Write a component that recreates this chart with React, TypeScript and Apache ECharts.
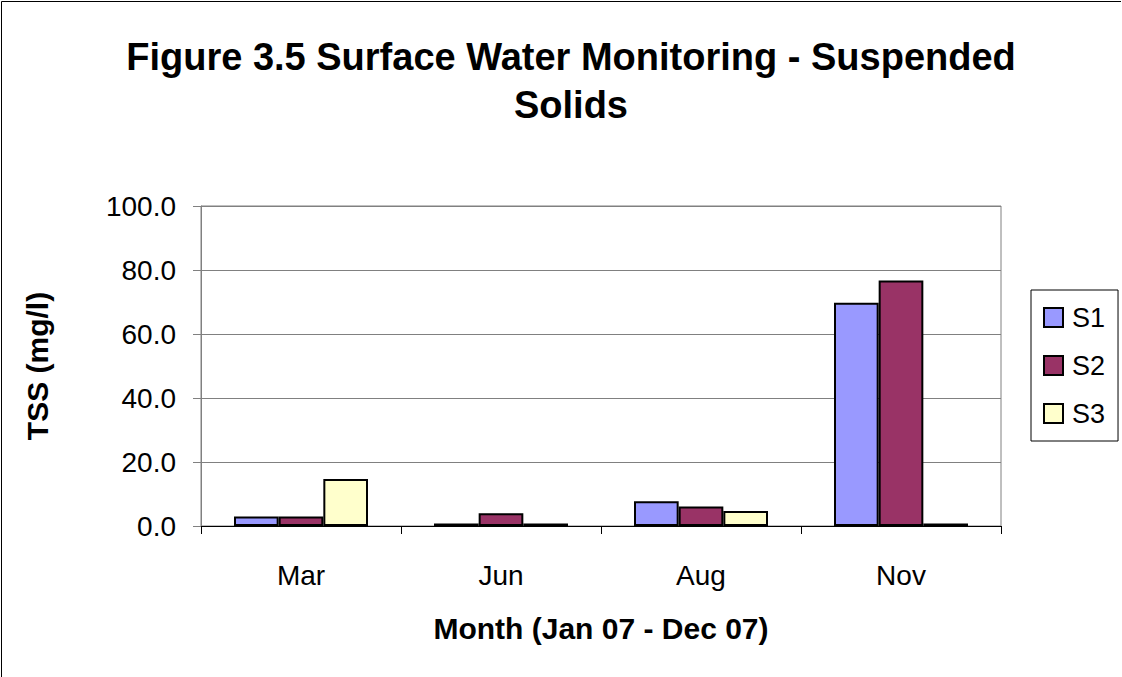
import React, { useEffect, useRef } from "react";
import * as echarts from "echarts";

const categories = ["Mar", "Jun", "Aug", "Nov"];
const seriesNames = ["S1", "S2", "S3"];
const s1Values = [3.0, 0.8, 7.7, 69.8];
const s2Values = [3.0, 4.0, 6.1, 76.7];
const s3Values = [14.7, 0.8, 4.7, 0.8];
const colors = ["#9999FF", "#993366", "#FFFFCC"];
const yTicks = { min: 0, max: 100, interval: 20 };

export default function App() {
  const ref = useRef<HTMLDivElement>(null);
  useEffect(() => {
    if (!ref.current) return;
    const chart = echarts.init(ref.current, undefined, { renderer: "svg" });
    const font = "Arial, 'Liberation Sans', sans-serif";
    const values = [s1Values, s2Values, s3Values];
    chart.setOption({
      animation: false,
      backgroundColor: "#ffffff",
      textStyle: { fontFamily: font },
      title: {
        text: "Figure 3.5 Surface Water Monitoring - Suspended\nSolids",
        left: 566,
        top: 28,
        textAlign: "center",
        textStyle: { fontSize: 38, fontWeight: "bold", color: "#000", lineHeight: 48, fontFamily: font },
      },
      graphic: [
        { type: "line", shape: { x1: 1.5, y1: 1.5, x2: 1121, y2: 1.5 }, style: { stroke: "#000", lineWidth: 1 } },
        { type: "line", shape: { x1: 1.5, y1: 1.5, x2: 1.5, y2: 677 }, style: { stroke: "#000", lineWidth: 1 } },
      ],
      legend: {
        orient: "vertical",
        left: 1031,
        top: 290,
        width: 87,
        padding: [14, 13, 14, 12],
        borderColor: "#000",
        borderWidth: 1,
        itemWidth: 19,
        itemHeight: 19,
        itemGap: 21,
        icon: "rect",
        textStyle: { fontSize: 27, color: "#000", fontFamily: font, padding: [0, 0, 0, 4] },
        data: seriesNames,
      },
      grid: {
        left: 201,
        top: 206,
        width: 800,
        height: 320,
        show: true,
        borderColor: "#808080",
        borderWidth: 1,
      },
      xAxis: {
        type: "category",
        data: categories,
        name: "Month (Jan 07 - Dec 07)",
        nameLocation: "middle",
        nameGap: 87,
        nameTextStyle: { fontSize: 30, fontWeight: "bold", color: "#000", fontFamily: font },
        axisLine: { lineStyle: { color: "#000", width: 1 } },
        axisTick: { show: true, length: 8, alignWithLabel: false, lineStyle: { color: "#000" } },
        axisLabel: { fontSize: 28, color: "#000", margin: 35, fontFamily: font },
        splitLine: { show: false },
      },
      yAxis: {
        type: "value",
        min: yTicks.min,
        max: yTicks.max,
        interval: yTicks.interval,
        name: "TSS (mg/l)",
        nameLocation: "middle",
        nameGap: 149,
        nameTextStyle: { fontSize: 30, fontWeight: "bold", color: "#000", fontFamily: font },
        axisLine: { show: true, lineStyle: { color: "#808080", width: 1 } },
        axisTick: { show: true, length: 8, inside: false, lineStyle: { color: "#808080" } },
        axisLabel: { fontSize: 28, color: "#000", margin: 25, fontFamily: font, formatter: (v: number) => v.toFixed(1) },
        splitLine: { show: true, lineStyle: { color: "#808080", width: 1 } },
      },
      series: seriesNames.map((name, i) => ({
        name,
        type: "bar",
        data: values[i],
        barGap: "0%",
        barCategoryGap: "33%",
        itemStyle: { color: colors[i], borderColor: "#000", borderWidth: 2 },
      })),
    });
    return () => chart.dispose();
  }, []);
  return <div ref={ref} style={{ position: "fixed", left: 0, top: 0, width: 1122, height: 677 }} />;
}
